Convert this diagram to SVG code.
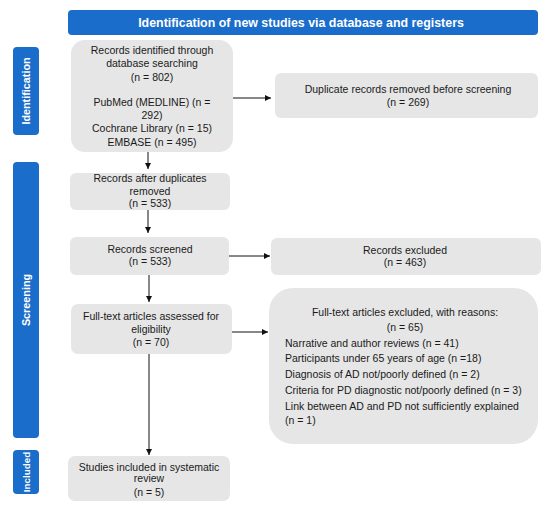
<svg xmlns="http://www.w3.org/2000/svg" width="550" height="510" viewBox="0 0 550 510">
<style>
.blue{fill:#1a6dca}
.box{fill:#e6e6e6}
.t{font-family:"Liberation Sans",Arial,sans-serif;font-size:10.5px;fill:#1a1a1a;text-anchor:middle}
.tl{font-family:"Liberation Sans",Arial,sans-serif;font-size:10.5px;fill:#1a1a1a}
.hw{font-family:"Liberation Sans",Arial,sans-serif;font-size:12.4px;font-weight:bold;fill:#fff;text-anchor:middle}
.sw{font-family:"Liberation Sans",Arial,sans-serif;font-size:10.8px;font-weight:bold;fill:#fff;text-anchor:middle}
.c{stroke:#111;stroke-width:1;fill:none;marker-end:url(#ah)}
</style>
<defs>
<marker id="ah" markerWidth="8" markerHeight="8" refX="6" refY="3" orient="auto" markerUnits="userSpaceOnUse">
<path d="M0,0 L6,3 L0,6 z" fill="#111"/>
</marker>
</defs>
<rect width="550" height="510" fill="#fff"/>
<g id="header">
<rect class="blue" x="68" y="10" width="470" height="25" rx="4"/>
<text class="hw" x="301" y="27">Identification of new studies via database and registers</text>
</g>
<g id="side-identification">
<rect class="blue" x="13" y="47" width="26" height="88" rx="4"/>
<text class="sw" transform="translate(29.8,91) rotate(-90)">Identification</text>
</g>
<g id="side-screening">
<rect class="blue" x="13" y="162" width="26" height="276" rx="4"/>
<text class="sw" transform="translate(29.8,300) rotate(-90)">Screening</text>
</g>
<g id="side-included">
<rect class="blue" x="13" y="450" width="26" height="44" rx="4"/>
<text class="sw" style="font-size:9.8px" transform="translate(29.5,472) rotate(-90)">Included</text>
</g>
<g id="n-identified">
<rect class="box" x="71" y="40" width="162" height="112" rx="14"/>
<text class="t" x="152" y="54">Records identified through</text>
<text class="t" x="152" y="67">database searching</text>
<text class="t" x="152" y="81">(n = 802)</text>
<text class="t" x="152" y="106">PubMed (MEDLINE) (n =</text>
<text class="t" x="152" y="119">292)</text>
<text class="t" x="152" y="132">Cochrane Library (n = 15)</text>
<text class="t" x="152" y="146">EMBASE (n = 495)</text>
</g>
<g id="n-duplicates">
<rect class="box" x="275" y="73" width="263" height="45" rx="6"/>
<text class="t" x="408" y="93">Duplicate records removed before screening</text>
<text class="t" x="408" y="106">(n = 269)</text>
</g>
<g id="n-after-dup">
<rect class="box" x="70" y="173" width="160" height="37" rx="6"/>
<text class="t" x="150" y="182">Records after duplicates</text>
<text class="t" x="150" y="195">removed</text>
<text class="t" x="150" y="207">(n = 533)</text>
</g>
<g id="n-screened">
<rect class="box" x="70" y="237" width="159" height="38" rx="6"/>
<text class="t" x="150" y="253">Records screened</text>
<text class="t" x="150" y="265">(n = 533)</text>
</g>
<g id="n-excluded">
<rect class="box" x="271" y="238" width="270" height="37" rx="6"/>
<text class="t" x="405" y="254">Records excluded</text>
<text class="t" x="405" y="266">(n = 463)</text>
</g>
<g id="n-fulltext">
<rect class="box" x="71" y="304" width="161" height="50" rx="7"/>
<text class="t" x="151" y="320">Full-text articles assessed for</text>
<text class="t" x="151" y="333">eligibility</text>
<text class="t" x="151" y="346">(n = 70)</text>
</g>
<g id="n-ft-excluded">
<rect class="box" x="269" y="288" width="269" height="156" rx="24"/>
<text class="t" x="405" y="316">Full-text articles excluded, with reasons:</text>
<text class="t" x="405" y="331">(n = 65)</text>
<text class="tl" x="285" y="347">Narrative and author reviews (n = 41)</text>
<text class="tl" x="285" y="362">Participants under 65 years of age (n =18)</text>
<text class="tl" x="285" y="378">Diagnosis of AD not/poorly defined (n = 2)</text>
<text class="tl" x="285" y="394">Criteria for PD diagnostic not/poorly defined (n = 3)</text>
<text class="tl" x="285" y="410">Link between AD and PD not sufficiently explained</text>
<text class="tl" x="285" y="424">(n = 1)</text>
</g>
<g id="n-included">
<rect class="box" x="68" y="456" width="162" height="45" rx="7"/>
<text class="t" x="149" y="471">Studies included in systematic</text>
<text class="t" x="149" y="482">review</text>
<text class="t" x="149" y="496">(n = 5)</text>
</g>
<g id="connectors">
<line class="c" x1="233" y1="98" x2="271" y2="98"/>
<line class="c" x1="148" y1="152" x2="148" y2="169"/>
<line class="c" x1="148" y1="210" x2="148" y2="233"/>
<line class="c" x1="229" y1="256" x2="270" y2="256"/>
<line class="c" x1="149" y1="275" x2="149" y2="302"/>
<line class="c" x1="232" y1="332" x2="268" y2="332"/>
<line class="c" x1="149" y1="354" x2="149" y2="455"/>
</g>
</svg>
